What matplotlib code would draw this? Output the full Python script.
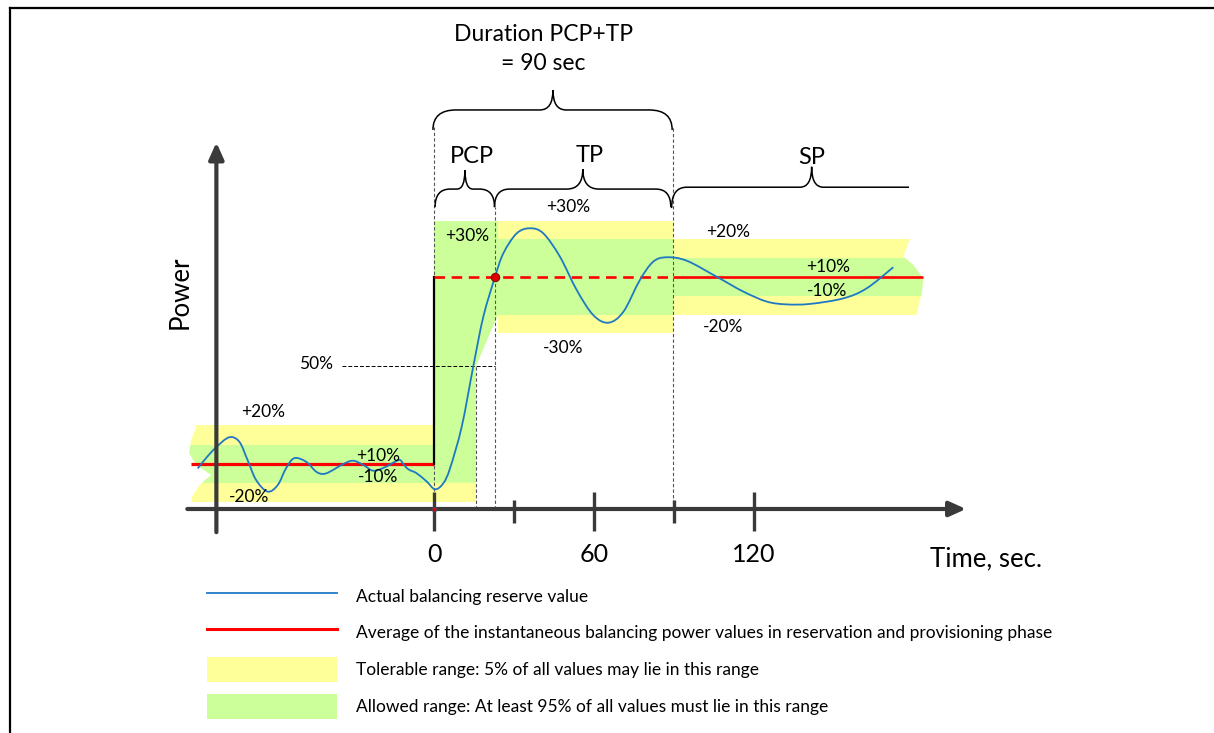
import numpy as np
import matplotlib
matplotlib.use("Agg")
import matplotlib.pyplot as plt
from matplotlib.path import Path
from matplotlib.patches import PathPatch, Polygon, Rectangle, Patch
from matplotlib.lines import Line2D

plt.rcParams['font.family'] = ['Lato', 'DejaVu Sans']

# ---- data (time in seconds, power in % of the activated level) ----
time_s = [-88.6, -85.5, -81.7, -76.8, -73.0, -69.9, -66.7, -62.4, -58.6, -55.5,
          -52.4, -48.0, -44.2, -41.6, -39.0, -34.0, -30.3, -26.5, -22.8, -18.4,
          -14.6, -12.7, -11.5, -9.6, -6.5, -2.7, 0.4, 3.5, 6.0, 10.4,
          14.7, 18.5, 22.9, 26.0, 31.0, 36.0, 41.0, 47.2, 53.5, 59.7,
          65.4, 71.0, 77.2, 82.2, 87.3, 94.8, 106.0, 116.0, 124.8, 132.2,
          141.0, 153.5, 162.2, 172.2]
power = [17.5, 21.9, 26.6, 30.9, 29.0, 21.1, 12.5, 7.5, 10.3, 17.5,
         21.9, 20.4, 16.1, 15.1, 16.1, 19.4, 20.8, 19.0, 16.5, 18.0,
         20.4, 21.1, 19.4, 17.1, 15.4, 11.8, 8.5, 11.1, 17.5, 35.5,
         61.3, 82.9, 100.1, 110.2, 118.8, 121.0, 118.8, 108.8, 94.4, 83.6,
         80.3, 85.0, 98.7, 106.6, 108.5, 107.0, 100.1, 93.7, 89.4, 88.2,
         88.4, 90.8, 95.1, 104.2]

p_before = 19.5          # average before activation
p_after = 100.0          # average after activation
p_half = 61.5            # 50 % line
t_start, t_end = -91.0, 183.4
t_pcp_end = 22.7
t_tp_band = 24.0
t_half = 15.7
t_tp_end = 89.5

init_green, init_yellow = 8.2, 16.6
tp_green, tp_yellow = 16.2, 24.1
sp_green, sp_yellow = 8.2, 16.3

tick_major = [0, 60, 120]
tick_minor = [30, 90]
tick_labels = ['0', '60', '120']

legend_labels = [
    'Actual balancing reserve value',
    'Average of the instantaneous balancing power values in reservation and provisioning phase',
    'Tolerable range: 5% of all values may lie in this range',
    'Allowed range: At least 95% of all values must lie in this range',
]

# torn edges of the bands
left_edge_t = [-89.2, -91.1, -91.8, -89.2, -83.6, -88.0, -91.1, -90.5]
left_edge_y = [35.2, 29.7, 24.0, 19.0, 14.7, 10.3, 4.6, 2.5]
right_edge_t = [178.5, 176.0, 179.7, 183.5, 182.9, 181.0]
right_edge_y = [116.7, 108.8, 105.2, 99.4, 93.0, 84.4]

YELLOW = '#FFFF99'
GREEN = '#CCFF99'
BLUE = '#1F78C4'
RED = '#FF0000'
AXC = '#3A3A3A'

# ---- layout: one axes over the whole figure ----
W, H = 1214, 733
X0_PX, PX_PER_S = 434, 2.667
Y0_PX, PX_PER_U = 509, 2.32

fig = plt.figure(figsize=(W / 100, H / 100), dpi=100)
ax = fig.add_axes([0, 0, 1, 1])
ax.set_xlim(-X0_PX / PX_PER_S, (W - X0_PX) / PX_PER_S)
ax.set_ylim(-(H - Y0_PX) / PX_PER_U, Y0_PX / PX_PER_U)
ax.axis('off')


def band(x0, x1, center, half, color, z=1):
    ax.add_patch(Rectangle((x0, center - half), x1 - x0, 2 * half,
                           facecolor=color, edgecolor='none', zorder=z))


# bands before activation
band(t_start - 3, t_half, p_before, init_yellow, YELLOW)
band(t_start - 3, 0, p_before, init_green, GREEN, 1.1)
# PCP allowed range
pcp = [(0, p_after + tp_yellow), (t_tp_band, p_after + tp_yellow),
       (t_tp_band, p_after - tp_green), (t_half, p_half),
       (t_half, p_before - init_green), (0, p_before - init_green)]
ax.add_patch(Polygon(pcp, closed=True, facecolor=GREEN, edgecolor='none', zorder=1.2))
# TP bands
band(t_tp_band, t_tp_end, p_after, tp_yellow, YELLOW)
band(t_tp_band, t_tp_end, p_after, tp_green, GREEN, 1.1)
# SP bands
band(t_tp_end, t_end + 4, p_after, sp_yellow, YELLOW)
band(t_tp_end, t_end + 4, p_after, sp_green, GREEN, 1.1)

# torn edges (white masks)
lmask = [(-110, left_edge_y[0] + 2), (left_edge_t[0], left_edge_y[0] + 2)] + \
    list(zip(left_edge_t, left_edge_y)) + \
    [(left_edge_t[-1], left_edge_y[-1] - 1), (-110, left_edge_y[-1] - 1)]
ax.add_patch(Polygon(lmask, closed=True, facecolor='white', edgecolor='none', zorder=1.5))
rmask = [(200, right_edge_y[0] + 2), (right_edge_t[0], right_edge_y[0] + 2)] + \
    list(zip(right_edge_t, right_edge_y)) + \
    [(right_edge_t[-1], right_edge_y[-1] - 2), (200, right_edge_y[-1] - 2)]
ax.add_patch(Polygon(rmask, closed=True, facecolor='white', edgecolor='none', zorder=1.5))

# dotted guide lines
dkw = dict(color='#555555', lw=0.8, ls=(0, (3, 2)), zorder=2)
ax.plot([0, 0], [-9, 164.5], **dkw)
ax.plot([t_pcp_end, t_pcp_end], [0, 130], **dkw)
ax.plot([t_half, t_half], [0, p_half], **dkw)
ax.plot([t_tp_end, t_tp_end], [0, 164.5], **dkw)
ax.plot([-34.5, t_pcp_end], [p_half, p_half], color='black', lw=0.7,
        ls=(0, (4, 2)), zorder=2)

# average lines
ax.plot([t_start, 0], [p_before, p_before], color=RED, lw=2.3, zorder=3,
        solid_capstyle='butt')
ax.plot([0, 0], [p_before, p_after], color='black', lw=1.6, zorder=3)
ax.plot([0, t_tp_end], [p_after, p_after], color=RED, lw=1.9, ls=(0, (4, 2.5)),
        zorder=3)
ax.plot([t_tp_end, t_end], [p_after, p_after], color=RED, lw=1.9, zorder=3,
        solid_capstyle='butt')


# actual value: smooth curve through the read points
def smooth_path(xs, ys):
    pts = np.column_stack([xs, ys])
    verts = [pts[0]]
    codes = [Path.MOVETO]
    n = len(pts)
    for i in range(n - 1):
        p0 = pts[i - 1] if i > 0 else pts[i]
        p1, p2 = pts[i], pts[i + 1]
        p3 = pts[i + 2] if i + 2 < n else pts[i + 1]
        verts += [p1 + (p2 - p0) / 6, p2 - (p3 - p1) / 6, p2]
        codes += [Path.CURVE4] * 3
    return Path(verts, codes)


ax.add_patch(PathPatch(smooth_path(time_s, power), facecolor='none',
                       edgecolor=BLUE, lw=1.3, zorder=4))

ax.plot(t_pcp_end, p_after, 'o', ms=6, mfc='#E00000', mec='#7A1010', mew=0.8, zorder=5)
ax.plot(0, 0, 'o', ms=3.5, mfc='#E00000', mec='#335577', mew=0.6, zorder=6)

# axes arrows
ax.annotate('', xy=(199.5, 0), xytext=(-92.5, 0),
            arrowprops=dict(arrowstyle='-|>,head_length=1.0,head_width=0.45',
                            lw=3, color=AXC, shrinkA=0, shrinkB=0), zorder=5)
ax.annotate('', xy=(-81.6, 158), xytext=(-81.6, -10),
            arrowprops=dict(arrowstyle='-|>,head_length=1.0,head_width=0.45',
                            lw=3, color=AXC, shrinkA=0, shrinkB=0), zorder=5)
ax.vlines(tick_major, -9.5, 7.5, color=AXC, lw=2.4, zorder=5)
ax.vlines(tick_minor, -6, 4, color=AXC, lw=2.4, zorder=5)
for t, lab in zip(tick_major, tick_labels):
    ax.text(t, -19.5, lab, ha='center', va='center', fontsize=18)
ax.text(206.8, -21.3, 'Time, sec.', ha='center', va='center', fontsize=18.5)
ax.text(-95.2, 93.5, 'Power', ha='center', va='center', rotation=90, fontsize=18.5)


# braces
def brace(x0, x1, xm, y, d_end, d_tip, w_end, w_tip, right_curl=True):
    verts = [(x0, y - d_end), (x0, y), (x0 + w_end, y),
             (xm - w_tip, y), (xm, y), (xm, y + d_tip),
             (xm, y), (xm + w_tip, y)]
    codes = [Path.MOVETO, Path.CURVE3, Path.CURVE3, Path.LINETO,
             Path.CURVE3, Path.CURVE3, Path.CURVE3, Path.CURVE3]
    if right_curl:
        verts += [(x1 - w_end, y), (x1, y), (x1, y - d_end)]
        codes += [Path.LINETO, Path.CURVE3, Path.CURVE3]
    else:
        verts += [(x1, y)]
        codes += [Path.LINETO]
    ax.add_patch(PathPatch(Path(verts, codes), facecolor='none',
                           edgecolor='black', lw=1.1, zorder=3))


brace(-0.4, t_tp_end - 0.2, 44.6, 172.0, 8.6, 8.6, 8.6, 4.9)
brace(0.4, t_pcp_end, 11.6, 137.9, 7.8, 8.2, 5.6, 3.0)
brace(t_pcp_end, t_tp_end - 0.7, 55.8, 137.9, 7.8, 8.6, 5.6, 6.0)
brace(t_tp_end - 0.4, 178.1, 141.6, 138.7, 9.0, 8.8, 5.6, 4.4, right_curl=False)

ax.text(41.0, 198.3, 'Duration PCP+TP\n= 90 sec', ha='center', va='center',
        fontsize=16.5, linespacing=1.45)
ax.text(14.1, 152.0, 'PCP', ha='center', va='center', fontsize=17)
ax.text(58.5, 152.4, 'TP', ha='center', va='center', fontsize=17)
ax.text(141.7, 151.6, 'SP', ha='center', va='center', fontsize=17)

# band annotations
notes = [(-64.2, 41.9, '+20%'), (-69.3, 5.3, '-20%'), (-21.1, 22.8, '+10%'),
         (-20.9, 13.7, '-10%'), (-44.2, 62.5, '50%'), (12.3, 117.7, '+30%'),
         (50.4, 130.3, '+30%'), (48.3, 69.3, '-30%'), (110.3, 119.5, '+20%'),
         (108.5, 78.6, '-20%'), (147.8, 104.4, '+10%'), (147.2, 94.1, '-10%')]
for t, y, s in notes:
    ax.text(t, y, s, ha='center', va='center', fontsize=12.5, zorder=6)

# legend
handles = [Line2D([], [], color=BLUE, lw=1.3),
           Line2D([], [], color=RED, lw=2.2),
           Patch(facecolor=YELLOW, edgecolor='none'),
           Patch(facecolor=GREEN, edgecolor='none')]
ax.legend(handles, legend_labels, loc='upper left',
          bbox_to_anchor=(207 / W, 1 - 583.5 / H), bbox_transform=fig.transFigure,
          frameon=False, fontsize=12.5, handlelength=7.47, handleheight=1.83,
          labelspacing=0.69, handletextpad=1.09, borderpad=0, borderaxespad=0)

# frame of the original picture (top and left edges)
fig.add_artist(Line2D([10 / W, 1], [1 - 8 / H, 1 - 8 / H], color='black', lw=1.6,
                      transform=fig.transFigure))
fig.add_artist(Line2D([10 / W, 10 / W], [0, 1 - 8 / H], color='black', lw=1.6,
                      transform=fig.transFigure))

fig.savefig('out.png', dpi=100)
